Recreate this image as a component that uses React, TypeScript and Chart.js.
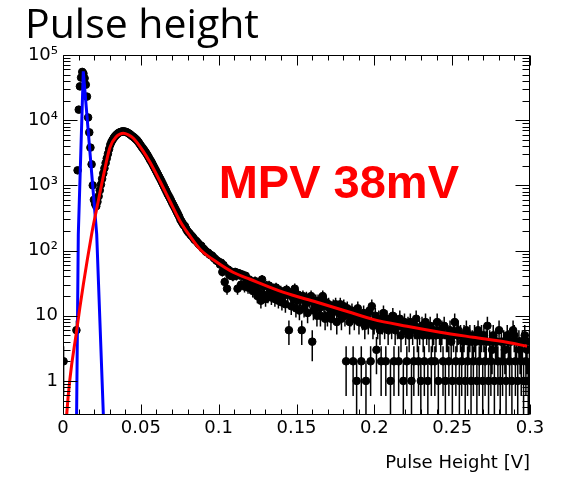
import React, { useEffect, useRef } from "react";
import { Chart, registerables } from "chart.js";

Chart.register(...registerables);

// ---------- axis ranges & labels ----------
const X_MIN = 0;
const X_MAX = 0.3;
const N_BINS = 400;
const Y_MIN = 0.31;
const Y_MAX = 1e5;

const X_TICKS = [0, 0.05, 0.1, 0.15, 0.2, 0.25, 0.3];
const X_TICK_LABELS = ["0", "0.05", "0.1", "0.15", "0.2", "0.25", "0.3"];
const Y_TICKS = [1, 10, 100, 1000, 10000, 100000];
const Y_TICK_LABELS = ["1", "10", "10²", "10³", "10⁴", "10⁵"];

const TITLE = "Pulse height";
const X_TITLE = "Pulse Height [V]";
const MPV_TEXT = "MPV 38mV";
const MPV_POS_X = 0.1;
const MPV_POS_Y = 650;

// ---------- histogram counts (bin width 0.3/400 V), null = empty bin ----------
// bins 0-27 : pedestal
const COUNTS_PEDESTAL = [
  2, null, null, null, null, null, null, null, null, null, null, 6,
  1700, 14500, 33000, 45000, 55000, 52000, 44000, 35000, 23000, 11000,
  6500, 3800, 2100, 1000, 600, 520,
];
// bins 28-132 : signal peak
const COUNTS_PEAK = [
  480, 560, 680, 840, 1030, 1260, 1530, 1830, 2200, 2600, 3050, 3600,
  4200, 4650, 5000, 5350, 5650, 5900, 6150, 6350, 6500, 6600,
  6700, 6750, 6700, 6650, 6550, 6400, 6250, 6050, 5850, 5650,
  5500, 5300, 5100, 4900, 4650, 4380, 4120, 3880, 3680, 3480,
  3280, 3080, 2880, 2680, 2480, 2330, 2160, 1990, 1840, 1700,
  1570, 1450, 1340, 1240, 1140, 1050, 965, 885, 815, 745,
  690, 640, 590, 540, 500, 462, 425, 392, 362, 333,
  300, 280, 260, 245, 236, 215, 200, 190, 182, 172,
  166, 158, 148, 143, 138, 131, 125, 120, 118, 109,
  106, 101, 96, 94, 92, 87, 85, 84, 80, 76, 74, 70, 69,
];
// bins 133-399 : tail
const COUNTS_TAIL = [
  67, 61, 65, 47, 60, 33, 54, 26, 51, 42, 48, 46, 40,
  44, 47, 41, 26, 45, 42, 30, 43, 40, 28, 41, 34, 27, 36, 34,
  33, 24, 31, 34, 25, 20, 32, 22, 17, 36, 28, 21, 18, 29, 20, 29, 25, 19, 22, 26, 18, 27, 23, 17, 21, 24, 16, 20,
  23, 15, 25, 21, 6, 22, 14, 20, 18, 26, 13, 17, 21, 12, 18, 6, 20, 13, 16, 19, 11, 18, 17, 20, 4, 12, 15, 17, 10,
  17, 13, 10, 17, 20, 14, 9, 16, 10, 15, 13, 9, 11, 14, 12, 15, 8, 13, 11, 15, 9, 12, 14, 10, 2, 13, 11, 8,
  10, 12, 2, 9, 11, 1, 13, 8, 10, 2, 9, 11, 7, 1, 10, 8, 12, 2, 14, 7,
  8, 10, 3, 7, 9, 6, 2, 8, 11, 7, 2, 9, 6, 8, 1, 7, 10, 2, 6, 8, 7, 2, 9, 5, 7, 1, 8, 6, 2,
  7, 5, 8, 1, 6, 2, 7, 9, 5, 2, 6, 1, 7, 5, 2, 8, 6, 1, 5, 7, 2, 5, 6, 2, 5, 8, 1, 6,
  5, 6, 2, 7, 1, 5, 5, 2, 6, 4, 1, 5, 8, 2, 5, 6, 1, 5, 2, 4, 5, 1, 6, 2, 4, 5, 1, 4, 2,
  5, 4, 1, 6, 2, 4, 5, 1, 5, 2, 4, 7, 1, 4, 2, 3, 5, 1, 4, 4, 2, 6, 1, 4, 2, 4, 3, 1, 5,
  4, 2, 4, 1, 6, 5, 2, 4, 1, 4, 3, 2, 4, 1, 5, 2, 3, 1, 4,
];

const LANDAU_X = [
  0.0016, 0.0024, 0.0088, 0.0184, 0.0216, 0.0259, 0.0302, 0.0345, 0.0366, 0.0387,
  0.042, 0.0452, 0.0516, 0.0559, 0.0623, 0.0687, 0.0752, 0.0816, 0.088, 0.0989,
  0.1092, 0.1201, 0.1413, 0.1632, 0.1843, 0.1991, 0.221, 0.2422, 0.2634, 0.2852, 0.2981,
];
const LANDAU_Y = [
  0.128, 0.31, 6.0, 178, 430, 1380, 3840, 5660, 6100, 6290,
  5950, 5280, 3330, 2260, 1157, 570, 282, 166, 105, 66,
  46.5, 36.3, 23, 16.1, 11.3, 8.8, 6.9, 5.6, 4.68, 3.92, 3.4,
];
const GAUSS_X = [0.0086, 0.00983, 0.01304, 0.02165, 0.0265];
const GAUSS_Y = [0.128, 178, 56000, 178, 0.128];

// ---------- build datasets ----------
const COUNTS = [...COUNTS_PEDESTAL, ...COUNTS_PEAK, ...COUNTS_TAIL];
const BIN_W = (X_MAX - X_MIN) / N_BINS;
const POINTS = COUNTS.map((c, i) =>
  c ? { x: X_MIN + (i + 0.5) * BIN_W, y: c as number } : null
).filter(Boolean) as { x: number; y: number }[];
const LANDAU = LANDAU_X.map((x, i) => ({ x, y: LANDAU_Y[i] }));
const GAUSS = GAUSS_X.map((x, i) => ({ x, y: GAUSS_Y[i] }));

const POINTS_INDEX = 2;

const errorBars = {
  id: "errorBars",
  beforeDatasetDraw(chart: any, args: any) {
    if (args.index !== POINTS_INDEX) return;
    const { ctx, chartArea: a, scales } = chart;
    const xs = scales.x;
    const ys = scales.y;
    ctx.save();
    ctx.beginPath();
    ctx.rect(a.left, a.top, a.right - a.left, a.bottom - a.top);
    ctx.clip();
    ctx.strokeStyle = "#000";
    ctx.lineWidth = 1.5;
    ctx.beginPath();
    for (const p of POINTS) {
      const e = Math.sqrt(p.y);
      const px = xs.getPixelForValue(p.x);
      const top = ys.getPixelForValue(p.y + e);
      const lo = p.y - e;
      const bot = lo > 0 ? ys.getPixelForValue(lo) : a.bottom + 5;
      ctx.moveTo(px, top);
      ctx.lineTo(px, bot);
    }
    ctx.stroke();
    ctx.restore();
  },
};

const frameAndText = {
  id: "frameAndText",
  afterDraw(chart: any) {
    const { ctx, chartArea: a, scales } = chart;
    const xs = scales.x;
    const ys = scales.y;
    const L = Math.round(a.left) + 0.5;
    const R = Math.round(a.right) - 0.5;
    const T = Math.round(a.top) + 0.5;
    const B = Math.round(a.bottom) - 0.5;
    ctx.save();
    ctx.strokeStyle = "#000";
    ctx.lineWidth = 1;
    ctx.beginPath();
    ctx.rect(L, T, R - L, B - T);
    // x ticks (inward, bottom and top)
    const xStep = (X_TICKS[1] - X_TICKS[0]) / 5;
    const nx = Math.round((X_MAX - X_MIN) / xStep);
    for (let k = 0; k <= nx; k++) {
      const v = X_MIN + k * xStep;
      const px = Math.round(xs.getPixelForValue(v)) + 0.5;
      const len = k % 5 === 0 ? 10 : 5;
      ctx.moveTo(px, B);
      ctx.lineTo(px, B - len);
      ctx.moveTo(px, T);
      ctx.lineTo(px, T + len);
    }
    // y ticks (inward, left and right)
    for (let d = -1; d <= 5; d++) {
      for (let m = 1; m <= 9; m++) {
        const v = m * Math.pow(10, d);
        if (v < Y_MIN || v > Y_MAX * 1.0001) continue;
        const py = Math.round(ys.getPixelForValue(v)) + 0.5;
        const len = m === 1 ? 14 : 7;
        ctx.moveTo(L, py);
        ctx.lineTo(L + len, py);
        ctx.moveTo(R, py);
        ctx.lineTo(R - len, py);
      }
    }
    ctx.stroke();

    // title
    ctx.fillStyle = "#000";
    ctx.textBaseline = "alphabetic";
    ctx.textAlign = "left";
    ctx.font = '41px "Open Sans"';
    ctx.fillText(TITLE, 25, 38);

    // MPV annotation
    ctx.fillStyle = "#ff0000";
    ctx.font = 'bold 47px "Liberation Sans"';
    ctx.fillText(MPV_TEXT, xs.getPixelForValue(MPV_POS_X), ys.getPixelForValue(MPV_POS_Y));
    ctx.restore();
  },
};

const tickFont = { family: "DejaVu Sans", size: 18 };

export default function App() {
  const ref = useRef<HTMLCanvasElement>(null);
  useEffect(() => {
    if (!ref.current) return;
    const chart = new Chart(ref.current, {
      type: "scatter",
      data: {
        datasets: [
          {
            label: "Landau fit",
            data: LANDAU,
            showLine: true,
            borderColor: "#ff0000",
            borderWidth: 3,
            pointRadius: 0,
            cubicInterpolationMode: "monotone",
            order: 0,
          },
          {
            label: "Gaussian fit",
            data: GAUSS,
            showLine: true,
            borderColor: "#0000ff",
            borderWidth: 3,
            pointRadius: 0,
            tension: 0,
            order: 1,
          },
          {
            label: "Data",
            data: POINTS,
            pointRadius: 3.8,
            pointBorderWidth: 1,
            pointBackgroundColor: "#000",
            pointBorderColor: "#000",
            order: 2,
          },
        ],
      } as any,
      options: {
        animation: false,
        responsive: false,
        devicePixelRatio: 1,
        events: [],
        layout: { padding: { top: 55, right: 47, left: 0, bottom: 0 } },
        plugins: {
          legend: { display: false },
          tooltip: { enabled: false },
          title: { display: false },
        },
        scales: {
          x: {
            type: "linear",
            min: X_MIN,
            max: X_MAX,
            grid: { display: false, drawTicks: false },
            border: { display: false },
            afterBuildTicks: (s: any) => {
              s.ticks = X_TICKS.map((v) => ({ value: v }));
            },
            afterFit: (s: any) => {
              s.height = 68;
            },
            ticks: {
              autoSkip: false,
              maxRotation: 0,
              padding: 3,
              color: "#000",
              font: tickFont,
              callback: (_v: any, i: number) => X_TICK_LABELS[i],
            },
            title: {
              display: true,
              text: X_TITLE,
              align: "end",
              color: "#000",
              font: { family: "DejaVu Sans", size: 18 },
              padding: { top: 0, bottom: 9 },
            },
          },
          y: {
            type: "logarithmic",
            min: Y_MIN,
            max: Y_MAX,
            grid: { display: false, drawTicks: false },
            border: { display: false },
            afterBuildTicks: (s: any) => {
              s.ticks = Y_TICKS.map((v) => ({ value: v }));
            },
            afterFit: (s: any) => {
              s.width = 63;
            },
            ticks: {
              autoSkip: false,
              padding: 5,
              color: "#000",
              font: tickFont,
              callback: (_v: any, i: number) => Y_TICK_LABELS[i],
            },
          },
        },
      } as any,
      plugins: [errorBars, frameAndText],
    });
    return () => chart.destroy();
  }, []);
  return (
    <div style={{ position: "fixed", left: 0, top: 0, width: 577, height: 483, background: "#fff" }}>
      <canvas ref={ref} width={577} height={483} style={{ display: "block", width: 577, height: 483 }} />
    </div>
  );
}
